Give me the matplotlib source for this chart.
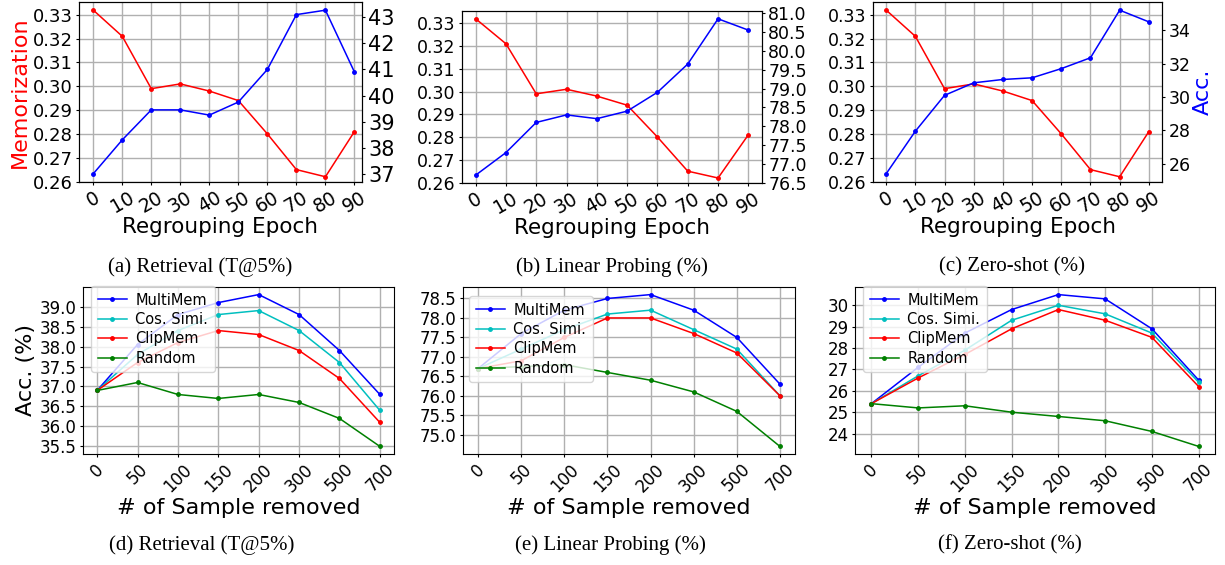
import matplotlib
matplotlib.use('Agg')
import matplotlib.pyplot as plt
from matplotlib.ticker import MultipleLocator

# top row: regrouping epoch vs memorization / accuracy
epochs = [0, 10, 20, 30, 40, 50, 60, 70, 80, 90]
memorization = [0.332, 0.321, 0.299, 0.301, 0.298, 0.294, 0.280, 0.265, 0.262, 0.281]
acc_retrieval = [37.0, 38.3, 39.45, 39.45, 39.25, 39.75, 41.0, 43.1, 43.27, 40.9]
acc_linear = [76.7, 77.3, 78.1, 78.3, 78.2, 78.4, 78.9, 79.65, 80.85, 80.55]
acc_zeroshot = [25.4, 27.95, 30.1, 30.85, 31.05, 31.15, 31.7, 32.35, 35.2, 34.5]

# bottom row: samples removed
removed = ['0', '50', '100', '150', '200', '300', '500', '700']
methods = ['MultiMem', 'Cos. Simi.', 'ClipMem', 'Random']
colors = ['b', 'c', 'r', 'g']

multimem_ret = [36.9, 38.05, 38.8, 39.1, 39.3, 38.8, 37.9, 36.8]
cossim_ret = [36.9, 37.8, 38.4, 38.8, 38.9, 38.4, 37.6, 36.4]
clipmem_ret = [36.9, 37.6, 38.1, 38.4, 38.3, 37.9, 37.2, 36.1]
random_ret = [36.9, 37.1, 36.8, 36.7, 36.8, 36.6, 36.2, 35.5]

multimem_lp = [76.7, 77.6, 78.2, 78.5, 78.6, 78.2, 77.5, 76.3]
cossim_lp = [76.7, 77.2, 77.7, 78.1, 78.2, 77.7, 77.2, 76.0]
clipmem_lp = [76.7, 76.9, 77.5, 78.0, 78.0, 77.6, 77.1, 76.0]
random_lp = [76.7, 76.75, 76.8, 76.6, 76.4, 76.1, 75.6, 74.7]

multimem_zs = [25.4, 27.1, 28.7, 29.8, 30.5, 30.3, 28.9, 26.5]
cossim_zs = [25.4, 26.7, 27.9, 29.3, 30.0, 29.6, 28.7, 26.4]
clipmem_zs = [25.4, 26.6, 27.7, 28.9, 29.8, 29.3, 28.5, 26.2]
random_zs = [25.4, 25.2, 25.3, 25.0, 24.8, 24.6, 24.1, 23.4]

captions_top = ['(a) Retrieval (T@5%)', '(b) Linear Probing (%)', '(c) Zero-shot (%)']
captions_bot = ['(d) Retrieval (T@5%)', '(e) Linear Probing (%)', '(f) Zero-shot (%)']

W, H = 1225, 565
fig = plt.figure(figsize=(W / 100, H / 100), dpi=100)


# pixel box -> figure fraction
def box(l, r, t, b):
    return [l / W, 1 - b / H, (r - l) / W, (b - t) / H]


top_boxes = [box(79, 362, 2, 182), box(462, 762, 11, 183), box(873, 1162, 2, 182)]
top_acc = [acc_retrieval, acc_linear, acc_zeroshot]
top_steps = [1, 0.5, 2]
top_cap_x = [200, 612, 1012]
left_fs = [13, 12.5, 12.5]
right_fs = [15, 12.5, 12.5]

for i in range(3):
    ax = fig.add_axes(top_boxes[i])
    ax.plot(epochs, memorization, 'r.-', lw=1.1, ms=5)
    ax.set_ylim(0.2598, 0.3354)
    if i == 0:
        ax.set_xlim(-4.9, 92.6)
    ax.yaxis.set_major_locator(MultipleLocator(0.01))
    ax.set_xticks(epochs)
    ax.tick_params(axis='y', labelsize=left_fs[i], length=2.5, pad=2)
    ax.tick_params(axis='x', labelsize=13.5, length=2.5, pad=2, rotation=30)
    ax.grid(True, lw=1.0, color='#b0b0b0')
    ax.set_xlabel('Regrouping Epoch', fontsize=15.5, labelpad=0)
    if i == 0:
        ax.set_ylabel('Memorization', fontsize=16, color='r', labelpad=2)
    ax2 = ax.twinx()
    ax2.plot(epochs, top_acc[i], 'b.-', lw=1.1, ms=5)
    ax2.yaxis.set_major_locator(MultipleLocator(top_steps[i]))
    ax2.tick_params(axis='y', labelsize=right_fs[i], length=2.5, pad=2)
    if i == 2:
        ax2.set_ylabel('Acc.', fontsize=16, color='b', labelpad=2)
    fig.text(top_cap_x[i] / W, 1 - 267 / H, captions_top[i],
             ha='center', va='center', fontsize=15, family='Liberation Serif')

bot_boxes = [box(83, 394, 287, 454), box(463, 795, 287, 454), box(855, 1215, 287, 454)]
bot_data = [[multimem_ret, cossim_ret, clipmem_ret, random_ret],
            [multimem_lp, cossim_lp, clipmem_lp, random_lp],
            [multimem_zs, cossim_zs, clipmem_zs, random_zs]]
bot_steps = [0.5, 0.5, 1]
bot_cap_x = [202, 610, 1010]
# upper-left corner of each legend, pixels
leg_corner = [(91, 286), (469, 296), (863, 286)]

for i in range(3):
    ax = fig.add_axes(bot_boxes[i])
    for j in range(4):
        ax.plot(removed, bot_data[i][j], '.-', color=colors[j], lw=1.1, ms=5, label=methods[j])
    ax.yaxis.set_major_locator(MultipleLocator(bot_steps[i]))
    ax.tick_params(axis='both', labelsize=12, length=2.5, pad=2)
    ax.tick_params(axis='x', rotation=45)
    ax.grid(True, lw=1.0, color='#b0b0b0')
    ax.set_xlabel('# of Sample removed', fontsize=16, labelpad=2)
    if i == 0:
        ax.set_ylabel('Acc. (%)', fontsize=16, labelpad=3)
    lx, ly = leg_corner[i]
    ax.legend(loc='upper left', fontsize=10.5, labelspacing=0.3, handlelength=2.0,
              handletextpad=0.6, borderpad=0.45, borderaxespad=0,
              bbox_to_anchor=(lx / W, 1 - ly / H), bbox_transform=fig.transFigure)
    fig.text(bot_cap_x[i] / W, 1 - 545 / H, captions_bot[i],
             ha='center', va='center', fontsize=15, family='Liberation Serif')

fig.savefig('out.png', dpi=100)
